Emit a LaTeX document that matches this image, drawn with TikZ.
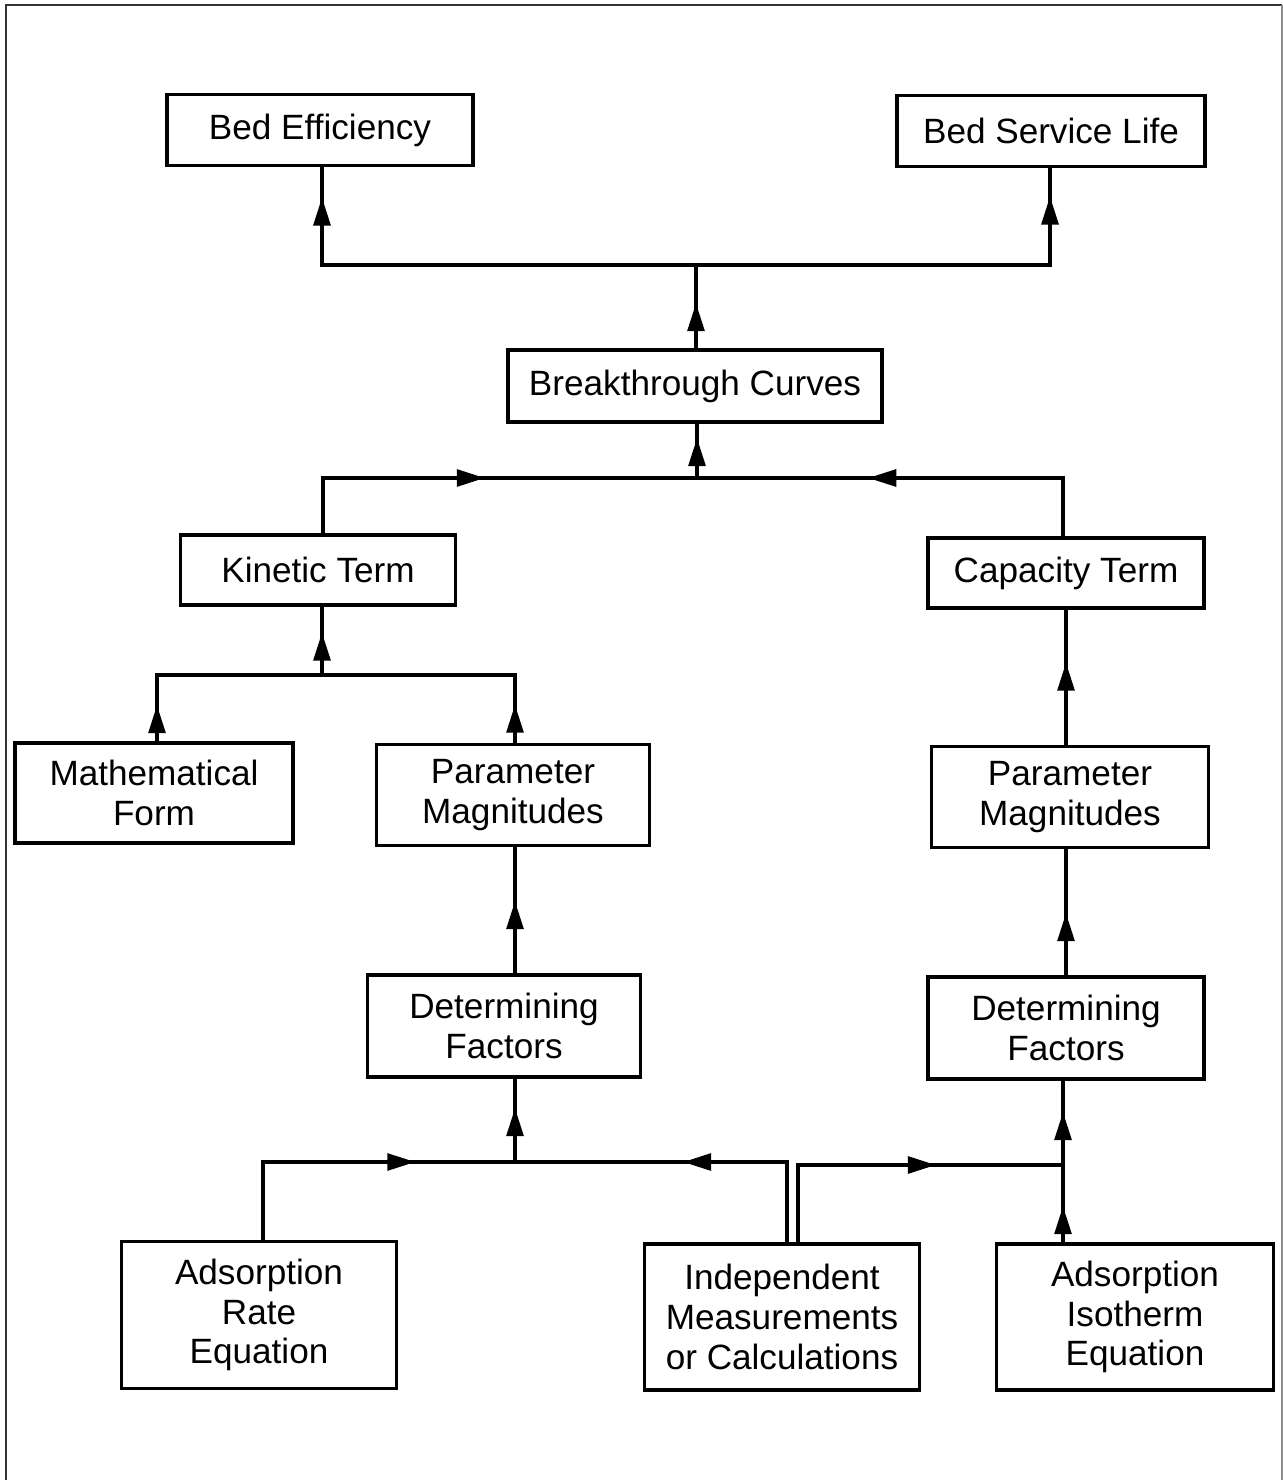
\documentclass[tikz,border=0pt]{standalone}
\usepackage{fontspec}
\setmainfont{Liberation Sans}
\usetikzlibrary{arrows.meta,decorations.markings}
\begin{document}
\begin{tikzpicture}[x=0.02cm,y=-0.02cm,
  box/.style={draw,line width=2.2pt,align=center,inner sep=0pt,
    font=\fontsize{20}{22.7}\selectfont},
  conn/.style={line width=2.2pt},
  arr/.style={conn,postaction={decorate},decoration={markings,
    mark=at position #1 with {\arrow{Triangle[length=16pt,width=9.5pt]}}}}]
\useasboundingbox (0,0) rectangle (1283,1480);
% frame
\draw[line width=0.9pt,black!80] (6,1480) -- (6,5) -- (1282,5);
\draw[line width=0.9pt,black!45] (1282,5) -- (1282,1480);
% nodes
\node[box,minimum width=6.12cm,minimum height=1.42cm] (be) at (320,130) {Bed Efficiency};
\node[box,minimum width=6.16cm,minimum height=1.42cm] (bs) at (1051,131) {Bed Service Life};
\node[box,minimum width=7.48cm,minimum height=1.44cm] (bc) at (695,386) {Breakthrough Curves};
\node[box,minimum width=5.5cm,minimum height=1.4cm] (kt) at (318,570) {Kinetic Term};
\node[box,minimum width=5.52cm,minimum height=1.4cm] (ct) at (1066,573) {Capacity Term};
\node[box,minimum width=5.56cm,minimum height=2.0cm] (mf) at (154,793) {Mathematical\\Form};
\node[box,minimum width=5.46cm,minimum height=2.02cm] (pl) at (513,795) {Parameter\\Magnitudes};
\node[box,minimum width=5.54cm,minimum height=2.02cm] (pr) at (1070,797) {Parameter\\Magnitudes};
\node[box,minimum width=5.46cm,minimum height=2.04cm] (dl) at (504,1026) {Determining\\Factors};
\node[box,minimum width=5.52cm,minimum height=2.04cm] (dr) at (1066,1028) {Determining\\Factors};
\node[box,minimum width=5.5cm,minimum height=2.94cm] (ra) at (259,1315) {Adsorption\\Rate\\Equation};
\node[box,minimum width=5.5cm,minimum height=2.92cm] (im) at (782,1317) {Independent\\Measurements\\or Calculations};
\node[box,minimum width=5.54cm,minimum height=2.92cm] (ai) at (1135,1317) {Adsorption\\Isotherm\\Equation};
% junctions
\coordinate (t1) at (696,265);
\coordinate (t2) at (697,478);
\coordinate (t3) at (322,675);
\coordinate (t4) at (515,1162);
\coordinate (t5) at (1063,1165);
\coordinate (imL) at (787,1244);
\coordinate (imR) at (798,1244);
% top level
\draw[arr=0.9cm] (bc.north -| t1) -- (t1);
\draw[arr=-0.6cm] (t1) -| ([xshift=0.04cm]be.south);
\draw[arr=-0.56cm] (t1) -| ([xshift=-0.02cm]bs.south);
% second level
\draw[arr=0.8cm] (t2) -- (bc.south -| t2);
\draw[arr=4.34cm] ([xshift=0.1cm]kt.north) |- (t2);
\draw[arr=5.06cm] ([xshift=-0.06cm]ct.north) |- (t2);
% kinetic branch
\draw[arr=0.85cm] (t3) -- (kt.south -| t3);
\draw[arr=0.72cm] ([xshift=0.06cm]mf.north) |- (t3);
\draw[arr=0.76cm] (pl.north -| t4) |- (t3);
\draw[arr=1.44cm] (dl.north -| t4) -- (pl.south -| t4);
% capacity branch
\draw[arr=1.64cm] (pr.north -| ct.south) -- (ct.south);
\draw[arr=1.24cm] (dr.north -| ct.south) -- (pr.south -| ct.south);
% bottom level
\draw[arr=1.08cm] (t4) -- (dl.south -| t4);
\draw[arr=4.6cm] ([xshift=0.08cm]ra.north) |- (t4);
\draw[arr=3.72cm] (imL) |- (t4);
\draw[arr=4.34cm] (imR) |- (t5);
\draw[arr=0.72cm] (ai.north -| t5) -- (t5);
\draw[arr=1.06cm] (t5) -- (dr.south -| t5);
\end{tikzpicture}
\end{document}
